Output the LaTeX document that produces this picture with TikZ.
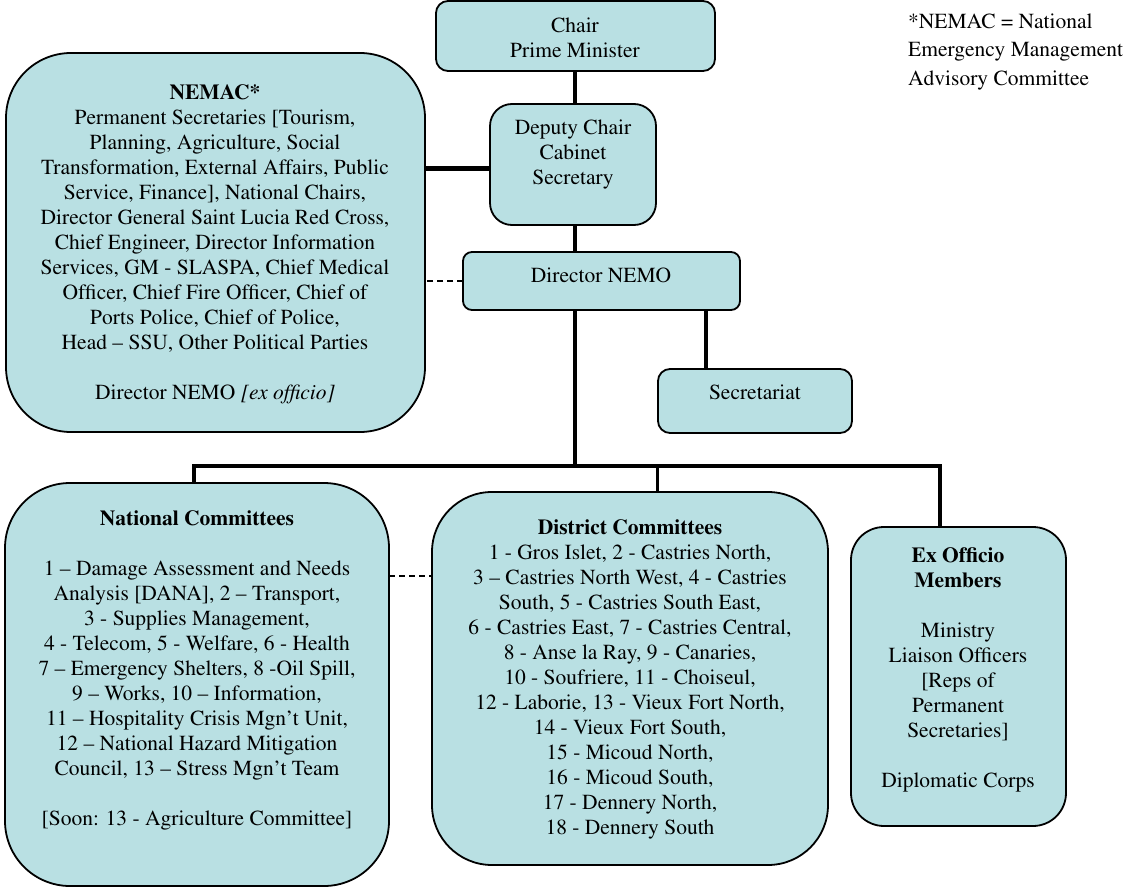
\documentclass[tikz,border=0pt]{standalone}
\usepackage[T1]{fontenc}
\usepackage{mathptmx}
\usetikzlibrary{calc}
\definecolor{boxfill}{RGB}{185,224,227}
\newcommand\basefs{\fontsize{21.5pt}{25pt}\selectfont}
\newcommand\notefs{\fontsize{21.5pt}{28.5pt}\selectfont}
\tikzset{
  orgbox/.style={draw=black, line width=1.8pt, fill=boxfill, inner sep=0pt, outer sep=0pt},
  txt/.style={align=center, inner sep=0pt, font=\basefs},
  link/.style={line width=3.5pt, line cap=butt},
  biglink/.style={line width=5pt, line cap=butt},
  dashlink/.style={line width=1.8pt, dash pattern=on 6pt off 4pt}
}
\begin{document}
\begin{tikzpicture}[x=1pt,y=-1pt]
\useasboundingbox (0,0) rectangle (1125,888);

% boxes
\node[orgbox, rounded corners=12pt, minimum width=279pt, minimum height=70pt] (chair) at (575.5,36) {};
\node[orgbox, rounded corners=22pt, minimum width=166pt, minimum height=121pt] (deputy) at (573,164.5) {};
\node[orgbox, rounded corners=9pt, minimum width=277pt, minimum height=58pt] (director) at (601.5,281) {};
\node[orgbox, rounded corners=12pt, minimum width=194pt, minimum height=64pt] (secr) at (755,401) {};
\node[orgbox, rounded corners=65pt, minimum width=419pt, minimum height=379pt] (nemac) at (215.5,242.5) {};
\node[orgbox, rounded corners=65pt, minimum width=384pt, minimum height=403pt] (national) at (197,684.5) {};
\node[orgbox, rounded corners=60pt, minimum width=396pt, minimum height=373pt] (district) at (630,678.5) {};
\node[orgbox, rounded corners=33pt, minimum width=215pt, minimum height=299pt] (exo) at (958.5,676.5) {};

% helper coordinates
\coordinate (spine) at (575,466);
\coordinate (busL) at (194,466);
\coordinate (busD) at (657.7,466);
\coordinate (busR) at (940,466);
\coordinate (secx) at (706,0);
\coordinate (ndash) at (0,576);

% connectors
\draw[link] (spine |- chair.south) -- (spine |- deputy.north);
\draw[link] (spine |- deputy.south) -- (spine |- director.north);
\draw[link] (spine |- director.south) -- (spine);
\draw[link] (secx |- director.south) -- (secx |- secr.north);
\draw[biglink] ($(deputy.west)+(0,4.5)$) -- ($(deputy.west -| nemac.east)+(0,4.5)$);
\draw[dashlink] (director.west) -- (director.west -| nemac.east);
\draw[link, line join=miter] (busL |- national.north) -- (busL) -- (busR) -- (busR |- exo.north);
\draw[link] (busD) -- (busD |- district.north);
\draw[dashlink] (national.east |- ndash) -- (district.west |- ndash);

% texts
\node[txt] (tchair) at (575,38) {Chair\\Prime Minister};
\node[txt] (tdeputy) at (573,155) {Deputy Chair\\Cabinet\\Secretary};
\node[txt] (tdirector) at (601,275) {Director NEMO};
\node[txt] (tsecr) at (755,392) {Secretariat};
\node[txt] (tnemac) at (215,244) {\textbf{NEMAC*}\\
Permanent Secretaries [Tourism,\\
Planning, Agriculture, Social\\
Transformation, External Affairs, Public\\
Service, Finance], National Chairs,\\
Director General Saint Lucia Red Cross,\\
Chief Engineer, Director Information\\
Services, GM - SLASPA, Chief Medical\\
Officer, Chief Fire Officer, Chief of\\
Ports Police, Chief of Police,\\
Head -- SSU, Other Political Parties\\[25pt]
Director NEMO \textit{[ex officio]}};
\node[txt] (tnational) at (197,670) {\textbf{National Committees}\\[25pt]
1 -- Damage Assessment and Needs\\
Analysis [DANA], 2 -- Transport,\\
3 - Supplies Management,\\
4 - Telecom, 5 - Welfare, 6 - Health\\
7 -- Emergency Shelters, 8 -Oil Spill,\\
9 -- Works, 10 -- Information,\\
11 -- Hospitality Crisis Mgn't Unit,\\
12 -- National Hazard Mitigation\\
Council, 13 -- Stress Mgn't Team\\[25pt]
{[}Soon: 13 - Agriculture Committee]};
\node[txt] (tdistrict) at (630,679) {\textbf{District Committees}\\
1 - Gros Islet, 2 - Castries North,\\
3 -- Castries North West, 4 - Castries\\
South, 5 - Castries South East,\\
6 - Castries East, 7 - Castries Central,\\
8 - Anse la Ray, 9 - Canaries,\\
10 - Soufriere, 11 - Choiseul,\\
12 - Laborie, 13 - Vieux Fort North,\\
14 - Vieux Fort South,\\
15 - Micoud North,\\
16 - Micoud South,\\
17 - Dennery North,\\
18 - Dennery South};
\node[txt] (texo) at (958,670) {\textbf{Ex Officio}\\\textbf{Members}\\[25pt]
Ministry\\
Liaison Officers\\
{[}Reps of\\
Permanent\\
Secretaries]\\[25pt]
Diplomatic Corps};
\node[align=left, inner sep=0pt, font=\notefs, anchor=west] (tnote) at (908,52) {*NEMAC = National\\
Emergency Management\\
Advisory Committee};
\end{tikzpicture}
\end{document}
